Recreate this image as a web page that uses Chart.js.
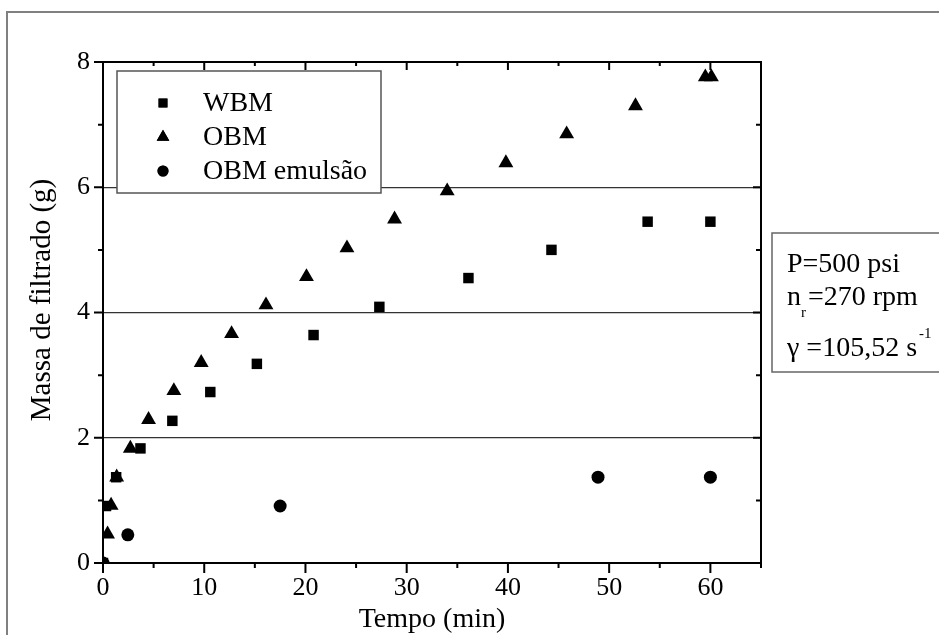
<!DOCTYPE html>
<html>
<head>
<meta charset="utf-8">
<script src="https://cdn.jsdelivr.net/npm/chart.js@4.4.0/dist/chart.umd.min.js"></script>
<style>
html, body { margin: 0; padding: 0; background: #fff; }
canvas { display: block; }
</style>
</head>
<body>
<canvas id="chart" width="939" height="635"></canvas>
<script>
var xTicks = [0, 10, 20, 30, 40, 50, 60];
var yTicks = [0, 2, 4, 6, 8];
var seriesNames = ['WBM', 'OBM', 'OBM emulsão'];

var wbmTime = [0, 0.3, 1.3, 3.7, 6.85, 10.6, 15.2, 20.8, 27.3, 36.1, 44.3, 53.8, 60];
var wbmMass = [0, 0.91, 1.37, 1.83, 2.27, 2.73, 3.18, 3.64, 4.09, 4.55, 5.0, 5.45, 5.45];

var obmTime = [0, 0.45, 0.8, 1.35, 2.7, 4.5, 7.0, 9.7, 12.7, 16.1, 20.1, 24.1, 28.8, 34.0, 39.8, 45.8, 52.6, 59.5, 60.1];
var obmMass = [0, 0.46, 0.92, 1.37, 1.83, 2.29, 2.75, 3.2, 3.66, 4.12, 4.57, 5.03, 5.49, 5.94, 6.39, 6.85, 7.3, 7.76, 7.76];

var emulTime = [0, 2.45, 17.5, 48.9, 60];
var emulMass = [0, 0.45, 0.91, 1.37, 1.37];

var xTitle = 'Tempo (min)';
var yTitle = 'Massa de filtrado (g)';

var serif = '"Liberation Serif", "Times New Roman", serif';

function toPoints(xs, ys) {
    return xs.map(function (x, i) { return {x: x, y: ys[i]}; });
}

function mark(ctx, style, r, x, y) {
    if (Chart.helpers && Chart.helpers.drawPoint) {
        Chart.helpers.drawPoint(ctx, {pointStyle: style, radius: r, rotation: 0}, x, y);
        ctx.fill();
    }
}

var decorPlugin = {
    id: 'decor',
    afterDraw: function (chart) {
        var ctx = chart.ctx;
        var a = chart.chartArea;
        var xs = chart.scales.x, ys = chart.scales.y;
        ctx.save();

        // outer figure frame
        ctx.strokeStyle = '#808080';
        ctx.lineWidth = 2;
        ctx.strokeRect(7, 12, 1000, 1000);

        // axes box
        ctx.strokeStyle = '#000';
        ctx.lineWidth = 2;
        ctx.strokeRect(a.left, a.top, a.right - a.left, a.bottom - a.top);

        // ticks, majors and minors
        ctx.lineWidth = 2;
        ctx.beginPath();
        for (var v = 0; v <= 65; v += 5) {
            var px = xs.getPixelForValue(v);
            var major = v % 10 === 0;
            ctx.moveTo(px, a.bottom);
            ctx.lineTo(px, a.bottom + (major ? 10 : 5));
            ctx.moveTo(px, a.top);
            ctx.lineTo(px, a.top + (major ? 8 : 4));
        }
        for (var w = 0; w <= 8; w += 1) {
            var py = ys.getPixelForValue(w);
            var maj = w % 2 === 0;
            ctx.moveTo(a.left, py);
            ctx.lineTo(a.left - (maj ? 9 : 5), py);
            ctx.moveTo(a.right, py);
            ctx.lineTo(a.right - (maj ? 8 : 5), py);
        }
        ctx.stroke();

        // legend
        ctx.fillStyle = '#fff';
        ctx.fillRect(117, 71, 264, 122);
        ctx.strokeStyle = '#555';
        ctx.lineWidth = 1.5;
        ctx.strokeRect(117, 71, 264, 122);
        ctx.font = '28px ' + serif;
        ctx.textBaseline = 'middle';
        ctx.textAlign = 'left';
        chart.data.datasets.forEach(function (ds, i) {
            var ly = 103 + i * 34;
            ctx.fillStyle = '#000';
            mark(ctx, ds.pointStyle, ds.pointRadius * 0.85, 163, ly);
            ctx.fillText(ds.label, 203, ly + 1);
        });

        // conditions box
        ctx.fillStyle = '#fff';
        ctx.fillRect(772, 233, 200, 139);
        ctx.strokeStyle = '#666';
        ctx.lineWidth = 1.5;
        ctx.strokeRect(772, 233, 200, 139);
        ctx.fillStyle = '#000';
        ctx.textBaseline = 'alphabetic';
        ctx.font = '28px ' + serif;
        ctx.fillText('P=500 psi', 787, 272);
        ctx.fillText('n', 787, 305);
        var nw = ctx.measureText('n').width;
        ctx.fillText('=270 rpm', 787 + nw + 7, 305);
        ctx.fillText('\u03b3', 787, 356);
        var gw = ctx.measureText('\u03b3 ').width;
        ctx.fillText('=105,52 s', 787 + gw, 356);
        var sw = ctx.measureText('=105,52 s').width;
        ctx.font = '15px ' + serif;
        ctx.fillText('r', 787 + nw, 317);
        ctx.fillText('-1', 787 + gw + sw + 2, 338);

        // axis titles
        ctx.font = '28px ' + serif;
        ctx.textAlign = 'center';
        ctx.fillText(xTitle, (a.left + a.right) / 2, 627);
        ctx.translate(42, 300);
        ctx.rotate(-Math.PI / 2);
        ctx.textBaseline = 'middle';
        ctx.font = '29px ' + serif;
        ctx.fillText(yTitle, 0, 0);

        ctx.restore();
    }
};

var ctx = document.getElementById('chart').getContext('2d');
var chart = new Chart(ctx, {
    type: 'scatter',
    data: {
        datasets: [
            {label: seriesNames[0], data: toPoints(wbmTime, wbmMass), pointStyle: 'rect', pointRadius: 7.4,
                backgroundColor: '#000', borderColor: '#000', borderWidth: 0, clip: 0},
            {label: seriesNames[1], data: toPoints(obmTime, obmMass), pointStyle: 'triangle', pointRadius: 8.6,
                backgroundColor: '#000', borderColor: '#000', borderWidth: 0, clip: 0},
            {label: seriesNames[2], data: toPoints(emulTime, emulMass), pointStyle: 'circle', pointRadius: 6.5,
                backgroundColor: '#000', borderColor: '#000', borderWidth: 0, clip: 0}
        ]
    },
    options: {
        responsive: false,
        animation: false,
        devicePixelRatio: 1,
        layout: {padding: {left: 0, right: 178, top: 62, bottom: 0}},
        plugins: {legend: {display: false}, tooltip: {enabled: false}},
        scales: {
            x: {
                type: 'linear', min: 0, max: 65,
                afterBuildTicks: function (s) { s.ticks = xTicks.map(function (v) { return {value: v}; }); },
                afterFit: function (s) { s.height = 72; },
                grid: {display: false, drawTicks: false},
                border: {display: false},
                ticks: {color: '#000', padding: 10, font: {family: serif, size: 26}, maxRotation: 0}
            },
            y: {
                type: 'linear', min: 0, max: 8,
                afterBuildTicks: function (s) { s.ticks = yTicks.map(function (v) { return {value: v}; }); },
                afterFit: function (s) { s.width = 103; },
                grid: {
                    drawTicks: false,
                    lineWidth: 1.2,
                    color: function (c) {
                        var v = c.tick ? c.tick.value : 0;
                        return (v === 0 || v === 8) ? 'rgba(0,0,0,0)' : '#333';
                    }
                },
                border: {display: false},
                ticks: {color: '#000', padding: 13, font: {family: serif, size: 26}}
            }
        }
    },
    plugins: [decorPlugin]
});
</script>
</body>
</html>
